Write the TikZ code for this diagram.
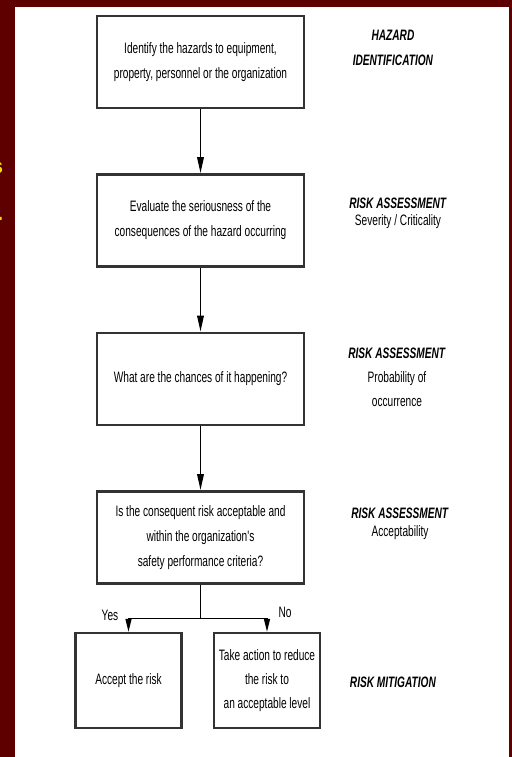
\documentclass[tikz,border=0pt]{standalone}
\usepackage{fontspec}
\setmainfont{Liberation Sans}
\newfontfamily\chartfont[FakeStretch=0.67]{Liberation Sans}
\usetikzlibrary{arrows.meta,positioning}
\definecolor{slidered}{RGB}{94,0,0}
\definecolor{slideyellow}{RGB}{250,225,0}

\begin{document}
\begin{tikzpicture}[
  node distance = 1.28cm,
  stepbox/.style = {rectangle, draw=black!80, line width=1.4pt, fill=white,
                    minimum width=4.14cm, minimum height=1.84cm, inner sep=2pt,
                    font=\chartfont\fontsize{8.6}{14.2}\selectfont, align=center},
  endbox/.style  = {stepbox, minimum width=2.12cm, minimum height=1.90cm,
                    font=\chartfont\fontsize{8.6}{13.7}\selectfont},
  arr/.style     = {-{Triangle[length=0.32cm,width=0.13cm]}, line width=1.0pt},
  brarr/.style   = {-{Triangle[length=0.26cm,width=0.12cm]}, line width=0.8pt},
  lbl/.style     = {font=\chartfont\fontsize{8.6}{#1}\selectfont, align=center},
  lbl/.default   = 10,
  txt/.style     = {font=\chartfont\fontsize{8.6}{9}\selectfont},
  cut/.style     = {text=slideyellow, anchor=east, inner sep=0pt,
                    font=\bfseries\fontsize{12}{12}\selectfont},
]
\useasboundingbox (0,0) rectangle (10.24,-15.14);
\fill[slidered] (0,0) rectangle (10.24,-15.14);
\fill[white] (0.30,-0.14) rectangle (10.18,-15.14);

% slide text cut off at the left edge
\node[cut] (cuts)   at (0.07,-3.35) {s};
\node[cut] (cutdot) at (0.07,-4.38) {.};

% main chain
\node[stepbox] (identify) at (4.01,-1.24)
  {Identify the hazards to equipment,\\property, personnel or the organization};
\node[stepbox, below=of identify] (evaluate)
  {Evaluate the seriousness of the\\consequences of the hazard occurring};
\node[stepbox, below=of evaluate] (chances)
  {What are the chances of it happening?};
\node[stepbox, below=of chances] (acceptable)
  {Is the consequent risk acceptable and\\within the organization's\\safety performance criteria?};
\node[endbox] (accept) at (2.57,-13.61) {Accept the risk};
\node[endbox] (reduce) at (5.34,-13.61)
  {Take action to reduce\\the risk to\\an acceptable level};

\draw[arr] (identify) -- (evaluate);
\draw[arr] (evaluate) -- (chances);
\draw[arr] (chances)  -- (acceptable);
\draw[line width=0.9pt] (acceptable.south) -- ++(0,-0.68) coordinate (split);
\draw[brarr] (split) -| (accept.north);
\draw[brarr] (split) -| (reduce.north);

\node[txt] (yes) at (2.20,-12.30) {Yes};
\node[txt] (no)  at (5.70,-12.24) {No};

% stage labels
\node[lbl=14.2] (hazlbl)  at (7.86,-0.95)
  {\textbf{\textit{HAZARD}}\\\textbf{\textit{IDENTIFICATION}}};
\node[lbl=9.7]  (sevlbl)  at (7.96,-4.27)
  {\textbf{\textit{RISK ASSESSMENT}}\\Severity / Criticality};
\node[lbl=13.7] (problbl) at (7.94,-7.55)
  {\textbf{\textit{RISK ASSESSMENT}}\\Probability of\\occurrence};
\node[lbl=10.2] (acclbl)  at (8.00,-10.48)
  {\textbf{\textit{RISK ASSESSMENT}}\\Acceptability};
\node[lbl]      (mitlbl)  at (7.86,-13.64) {\textbf{\textit{RISK MITIGATION}}};
\end{tikzpicture}
\end{document}
